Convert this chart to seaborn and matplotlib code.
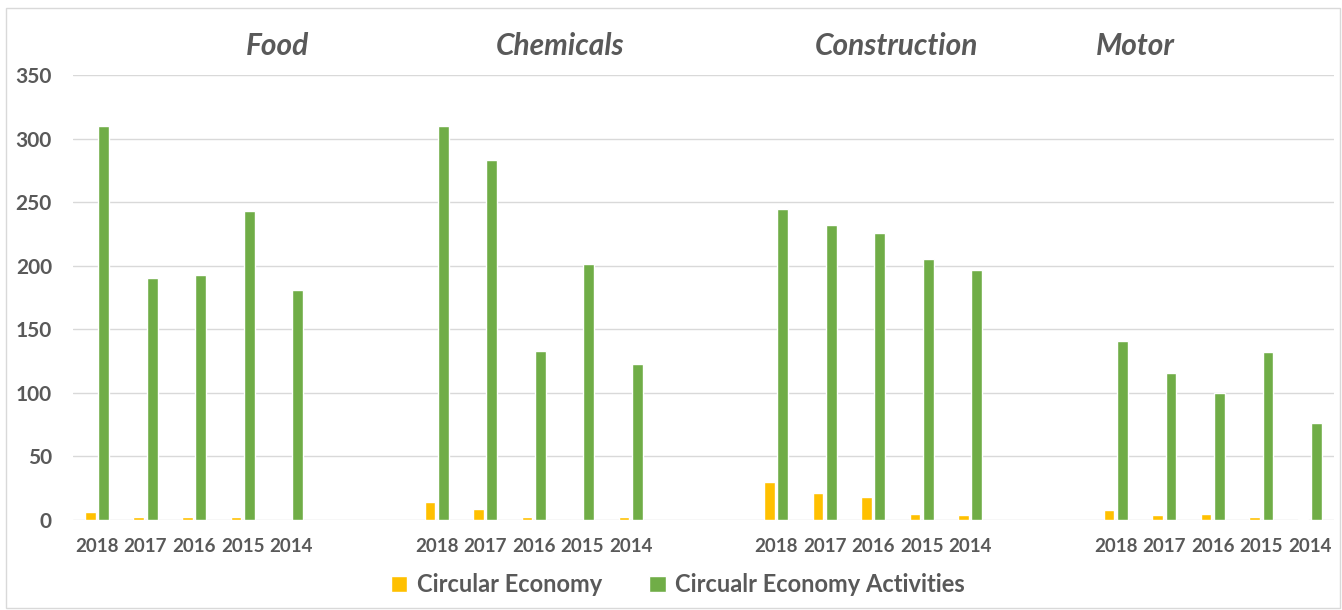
import matplotlib
matplotlib.use("Agg")
import matplotlib.pyplot as plt
from matplotlib.patches import Rectangle
import seaborn as sns
import pandas as pd
import numpy as np

sectors = ["Food", "Chemicals", "Construction", "Motor"]
years = ["2018", "2017", "2016", "2015", "2014"]
series_names = ["Circular Economy", "Circualr Economy Activities"]

circular_economy = {
    "Food":         [6, 2.5, 2.5, 2, 0],
    "Chemicals":    [14, 8.7, 2, 0, 2],
    "Construction": [30, 21, 18.4, 4.7, 4],
    "Motor":        [8, 4, 4.7, 2.6, 1],
}
ce_activities = {
    "Food":         [310, 190, 193, 243, 181],
    "Chemicals":    [310, 283, 133, 201, 123],
    "Construction": [245, 232, 226, 205, 197],
    "Motor":        [141, 116, 100, 132, 76],
}
colors = ["#FFC000", "#70AD47"]
text_gray = "#595959"

rows = []
order = []
tick_labels = []
for si, s in enumerate(sectors):
    for yi, y in enumerate(years):
        key = f"{s} {y}"
        order.append(key)
        tick_labels.append(y)
        rows.append({"slot": key, "series": series_names[0], "value": circular_economy[s][yi]})
        rows.append({"slot": key, "series": series_names[1], "value": ce_activities[s][yi]})
    if si < len(sectors) - 1:
        for g in range(2):
            order.append(f"gap{si}_{g}")
            tick_labels.append("")
df = pd.DataFrame(rows)

sns.set_theme(style="white")
plt.rcParams["font.family"] = ["Lato", "DejaVu Sans"]

fig = plt.figure(figsize=(13.42, 6.10), dpi=100)
ax = fig.add_axes([0.0542, 0.1475, 0.9398, 0.7295])

sns.barplot(data=df, x="slot", y="value", hue="series", order=order,
            hue_order=series_names, palette=colors, width=0.55, gap=0.2,
            saturation=1, ax=ax, legend=True)

ax.set_ylim(0, 350)
ax.set_xlim(-0.5, len(order) - 0.5)
ax.set_yticks(np.arange(0, 351, 50))
ax.yaxis.grid(True, color="#d9d9d9", linewidth=1)
ax.set_axisbelow(True)
for sp in ax.spines.values():
    sp.set_visible(False)
ax.set_xticks(range(len(order)))
ax.set_xticklabels(tick_labels, fontsize=13.5, fontweight="bold", color=text_gray)
ax.tick_params(axis="x", length=0, pad=13)
ax.tick_params(axis="y", length=0, pad=15, labelsize=15, labelcolor=text_gray)
for t in ax.get_yticklabels():
    t.set_fontweight("bold")
ax.set_xlabel("")
ax.set_ylabel("")

handles, labels = ax.get_legend_handles_labels()
ax.get_legend().remove()
fig.legend(handles, labels, loc="center", bbox_to_anchor=(0.505, 0.041), ncol=2,
           frameon=False, handlelength=0.7, handleheight=0.7,
           handletextpad=0.4, columnspacing=2.0,
           prop={"size": 17, "weight": "bold"}, labelcolor=text_gray)

title_x = [277, 560, 896, 1135]
for s, x in zip(sectors, title_x):
    fig.text(x / 1342, 1 - 46 / 610, s, ha="center", va="center", fontsize=21.5,
             fontstyle="italic", fontweight="bold", color=text_gray)

fig.patches.append(Rectangle((6 / 1342, 2 / 610), 1 - 8 / 1342, 1 - 10 / 610,
                             transform=fig.transFigure, fill=False,
                             edgecolor="#d9d9d9", linewidth=1))

fig.savefig("out.png", dpi=100, facecolor="white")
